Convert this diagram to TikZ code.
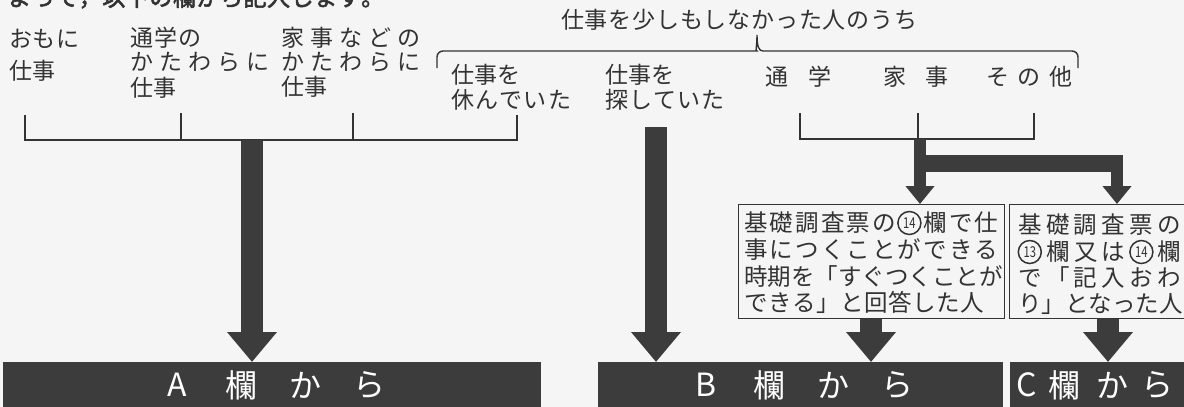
\documentclass[tikz,border=0pt]{standalone}
\usepackage{fontspec}
\setmainfont{Noto Sans CJK JP}
\newfontfamily\jpb[FakeBold=2.5]{Noto Sans CJK JP}
\usetikzlibrary{arrows.meta}
\definecolor{bg}{HTML}{F5F5F5}
\definecolor{ink}{HTML}{333333}
\definecolor{dk}{HTML}{3C3C3C}
\ExplSyntaxOn
\NewDocumentCommand\spr{mm}{\makebox[#1][s]{\tl_map_inline:nn{#2}{##1\hfil}\unskip}}
\ExplSyntaxOff
\newcommand\cph{\hbox to 23.5pt{\hfil}}
\tikzset{
  lab/.style={anchor=base west, inner sep=0pt, text=ink, font=\fontsize{23}{23}\selectfont},
  blab/.style={anchor=base west, inner sep=0pt, text=ink, font=\fontsize{23.5}{23.5}\selectfont},
  cn/.style={circle, draw=ink, line width=1.5pt, inner sep=0pt, minimum size=23pt, text=ink, font=\fontsize{15}{15}\selectfont},
  ln/.style={draw=ink, line width=1.4pt},
  bar/.style={fill=dk, draw=none, anchor=north west, inner sep=0pt},
  btx/.style={text=white, inner sep=0pt, font=\fontsize{32}{32}\selectfont},
  boxx/.style={draw=ink, line width=1.3pt, anchor=north west, inner sep=0pt},
  fat/.style={draw=dk, line width=22pt, -{Triangle[width=48pt,length=30pt]}},
  thinar/.style={draw=dk, line width=12pt, -{Triangle[width=28pt,length=18pt]}},
}
\begin{document}
\begin{tikzpicture}[x=1pt,y=-1pt]
\useasboundingbox (0,0) rectangle (1184,407);
\clip (0,0) rectangle (1184,407);
\fill[bg] (0,0) rectangle (1184,407);
% cut top line
\node[anchor=base west, inner sep=0pt, text=ink, font=\fontsize{23}{23}\selectfont\jpb] (top) at (8,6) {\spr{376pt}{よって，以下の欄から記入します。}};
% left labels
\node[lab] (l1a) at (9,47.5) {\spr{70pt}{おもに}};
\node[lab] (l1b) at (9,79.5) {仕事};
\node[lab] (l2a) at (130,46.5) {\spr{71pt}{通学の}};
\node[lab] (l2b) at (130,70.5) {\spr{139pt}{かたわらに}};
\node[lab] (l2c) at (130,96.5) {仕事};
\node[lab] (l3a) at (281,46.5) {\spr{139pt}{家事などの}};
\node[lab] (l3b) at (281,70.5) {\spr{139pt}{かたわらに}};
\node[lab] (l3c) at (281,95.5) {仕事};
\node[lab] (ttl) at (561,28.5) {\spr{356pt}{仕事を少しもしなかった人のうち}};
\node[lab] (l4a) at (451,83.5) {仕事を};
\node[lab] (l4b) at (451,108.5) {\spr{120pt}{休んでいた}};
\node[lab] (l5a) at (605,83.5) {仕事を};
\node[lab] (l5b) at (605,108.5) {\spr{119pt}{探していた}};
\node[lab] (l6) at (765,85.5) {通};
\node[lab] (l7) at (808,85.5) {学};
\node[lab] (l8) at (883,85.5) {家};
\node[lab] (l9) at (925,85.5) {事};
\node[lab] (l10) at (986,85.5) {\spr{86pt}{その他}};
% brace
\draw[ln] (437,68) [rounded corners=6pt] -- (437,51) -- (751,51) [sharp corners]
  .. controls (755,51) and (757,47) .. (757,35)
  .. controls (757,47) and (759,51) .. (763,51) [rounded corners=6pt] -- (1078,51) -- (1078,68);
% left bracket
\coordinate (aTop) at (252,140);
\draw[ln] (25,115) -- (25,140) -- (517,140) -- (517,115);
\draw[ln] (181,113) -- (181,140);
\draw[ln] (353,113) -- (353,140);
% right bracket
\coordinate (jTop) at (920,139);
\draw[ln] (800,113) -- (800,139) -- (1034,139) -- (1034,113);
\draw[ln] (918,113) -- (918,139);
% boxes
\node[boxx, minimum width=266pt, minimum height=114pt] (box1) at (738,204) {};
\node[blab] (b1a) at (744,231.5) {\spr{254pt}{基礎調査票の{\cph}欄で仕}};
\node[cn] (n14a) at (909.4,223) {\scalebox{0.75}[1]{14}};
\node[blab] (b1b) at (744,258.5) {\spr{254pt}{事につくことができる}};
\node[blab] (b1c) at (744,285.5) {\spr{254pt}{時期を「すぐつくことが}};
\node[blab] (b1d) at (744,311.5) {\spr{240pt}{できる」と回答した人}};
\node[boxx, minimum width=180pt, minimum height=114pt] (box2) at (1009,204) {};
\node[blab] (b2a) at (1018,233.5) {\spr{163pt}{基礎調査票の}};
\node[blab] (b2b) at (1018,260.5) {\spr{163pt}{{\cph}欄又は{\cph}欄}};
\node[cn] (n13) at (1029.8,252) {\scalebox{0.75}[1]{13}};
\node[cn] (n14b) at (1141.4,252) {\scalebox{0.75}[1]{14}};
\node[blab] (b2c) at (1018,286.5) {\spr{163pt}{で「記入おわ}};
\node[blab] (b2d) at (1018,312.5) {\spr{163pt}{り」となった人}};
% bars
\node[bar, minimum width=538pt, minimum height=48pt] (barA) at (3,362) {};
\node[bar, minimum width=405pt, minimum height=48pt] (barB) at (598,362) {};
\node[bar, minimum width=180pt, minimum height=48pt] (barC) at (1010,362) {};
\node[btx] (a1) at (177,385) {A};
\node[btx] (a2) at (241,385) {欄};
\node[btx] (a3) at (305,385) {か};
\node[btx] (a4) at (369,385) {ら};
\node[btx] (bb1) at (706,385) {B};
\node[btx] (bb2) at (769,385) {欄};
\node[btx] (bb3) at (833,385) {か};
\node[btx] (bb4) at (897,385) {ら};
\node[btx] (c1) at (1027,385) {C};
\node[btx] (c2) at (1064,385) {欄};
\node[btx] (c3) at (1112,385) {か};
\node[btx] (c4) at (1157,385) {ら};
% arrows
\coordinate (bTop) at (656,127);
\draw[fat] (aTop) -- (aTop |- barA.north);
\draw[fat] (bTop) -- (bTop |- barB.north);
\draw[fat] (box1.south -| 871,0) -- (871,362);
\draw[fat] (box2.south -| 1108,0) -- (1108,362);
% T junction
\coordinate (jL) at (920,163);
\coordinate (jR) at (1117,163);
\draw[draw=dk, line width=12pt] (jTop) -- (920,165);
\draw[draw=dk, line width=17pt] (914,163.5) -- (1123,163.5);
\draw[thinar] (jL) -- (jL |- box1.north);
\draw[thinar] (jR) -- (jR |- box2.north);
\end{tikzpicture}
\end{document}
